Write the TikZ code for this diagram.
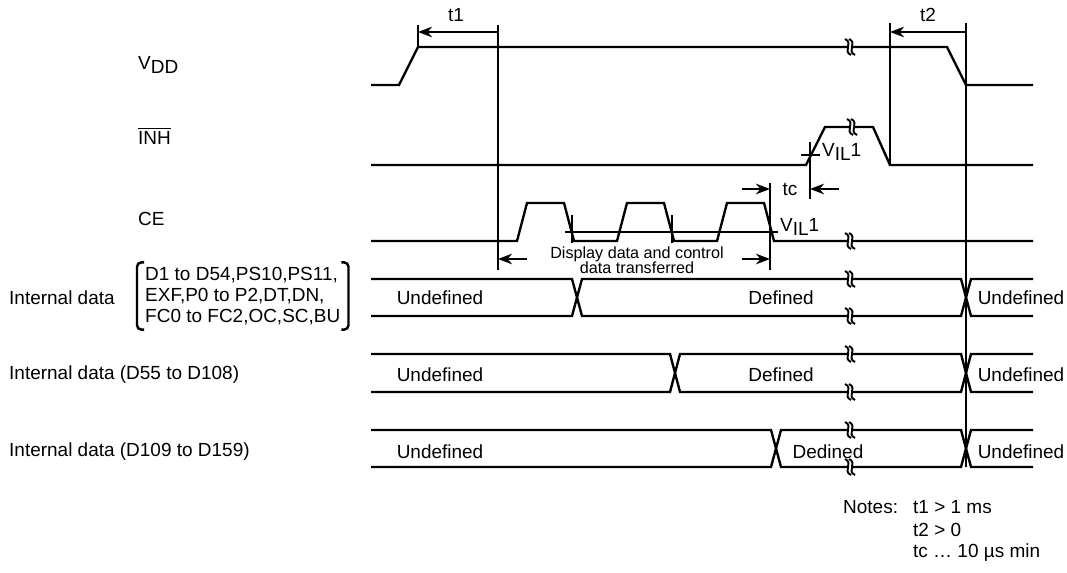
\documentclass[tikz,border=0pt]{standalone}
\usepackage{fontspec}
\setmainfont{Liberation Sans}
\usetikzlibrary{arrows.meta}

% break mark: two wavy strokes across a line
\newcommand{\brkmark}[2]{%
  \fill[white] ({#1-5},{#2-8}) .. controls ({#1+4},{#2-4}) and ({#1-8},{#2+4}) .. ({#1+1},{#2+8})
    -- ({#1+5},{#2+8}) .. controls ({#1-4},{#2+4}) and ({#1+8},{#2-4}) .. ({#1-1},{#2-8}) -- cycle;
  \draw[line width=1.1pt] ({#1-5},{#2-8}) .. controls ({#1+4},{#2-4}) and ({#1-8},{#2+4}) .. ({#1+1},{#2+8});
  \draw[line width=1.1pt] ({#1-1},{#2-8}) .. controls ({#1+8},{#2-4}) and ({#1-4},{#2+4}) .. ({#1+5},{#2+8});
}

\begin{document}
\begin{tikzpicture}[x=0.02cm, y=-0.02cm, line width=1.35pt,
  every node/.style={font=\fontsize{10.8}{13}\selectfont, inner sep=0pt},
  dim/.style={-{Stealth[length=8pt,width=6pt]}}]
  \useasboundingbox (0,0) rectangle (1067,573);

  \def\xl{371}
  \def\xr{1033}
  \def\xbrk{850}
  \def\xend{966}

  % labels on the left
  \node[anchor=west] (vdd) at (137,65) {V\raisebox{-0.45ex}{DD}};
  \node[anchor=west] (inh) at (137,136) {$\overline{\mbox{INH}}$};
  \node[anchor=west] (ce) at (137,219) {CE};
  \node[anchor=west] (int1) at (8,298) {Internal data};
  \node[anchor=west, align=left, inner xsep=4pt, inner ysep=2pt,
    font=\fontsize{10.8}{12}\selectfont] (lst) at (137,296)
    {D1 to D54,PS10,PS11,\\EXF,P0 to P2,DT,DN,\\FC0 to FC2,OC,SC,BU};
  \draw[line width=1.4pt, rounded corners=2.5pt] ([xshift=4pt]lst.north west) -- (lst.north west)
    -- (lst.south west) -- ([xshift=4pt]lst.south west);
  \draw[line width=1.4pt, rounded corners=2.5pt] ([xshift=-4pt]lst.north east) -- (lst.north east)
    -- (lst.south east) -- ([xshift=-4pt]lst.south east);
  \node[anchor=west] (int2) at (8,375) {Internal data (D55 to D108)};
  \node[anchor=west] (int3) at (8,452) {Internal data (D109 to D159)};

  % VDD
  \draw (\xl,85) -- (399,85) -- (418,47) -- (947,47) -- (\xend,85) -- (\xr,85);
  \brkmark{\xbrk}{47}

  % INH
  \draw (\xl,165) -- (806,165) -- (825,127) -- (873,127) -- (890,165) -- (\xr,165);
  \brkmark{852}{127}

  % CE
  \draw (\xl,241) -- (517,241)
    \foreach \p in {517,617,717} { -- (\p,241) -- (\p+10,203) -- (\p+47,203) -- (\p+57,241) }
    -- (\xr,241);
  \brkmark{\xbrk}{241}
  \draw (565,232) -- (778,232);
  \draw (572,215) -- (572,243);
  \draw (672,215) -- (672,243);

  % t1, t2
  \draw (418,25) -- (418,47);
  \draw (498,25) -- (498,270);
  \draw (890,23) -- (890,165);
  \draw (\xend,23) -- (\xend,467);
  \draw[dim, {Stealth[length=8pt,width=6pt]}-] (418,32) -- (498,32);
  \draw[dim, {Stealth[length=8pt,width=6pt]}-] (890,32) -- (\xend,32);
  \node (t1) at (456,15) {t1};
  \node (t2) at (928,15) {t2};

  % tc and VIL1
  \draw (810,142) -- (810,199);
  \draw (801,155) -- (820,155);
  \draw (770,183) -- (770,270);
  \draw[dim] (742,189) -- (770,189);
  \draw[dim] (839,189) -- (810,189);
  \node (tc) at (790,189) {tc};
  \node[anchor=west] (vil1) at (821,152) {V\raisebox{-0.45ex}{IL}1};
  \node[anchor=west] (vil2) at (779,227) {V\raisebox{-0.45ex}{IL}1};

  % transfer period
  \draw[dim] (527,259) -- (498,259);
  \draw[dim] (742,259) -- (770,259);
  \node[align=center, font=\fontsize{9.2}{11}\selectfont] (xfer) at (637,260)
    {Display data and control\\[-2.2pt]data transferred};

  % internal data rows
  \foreach \yt/\yb/\xc in {279/316/577, 354/392/675, 430/467/776} {
    \draw (\xl,\yt) -- (\xc-5,\yt) -- (\xc+5,\yb) -- (\xend-5,\yb) -- (\xend+5,\yt) -- (\xr,\yt);
    \draw (\xl,\yb) -- (\xc-5,\yb) -- (\xc+5,\yt) -- (\xend-5,\yt) -- (\xend+5,\yb) -- (\xr,\yb);
    \brkmark{\xbrk}{\yt}
    \brkmark{\xbrk}{\yb}
  }
  \node (u1) at (440,298) {Undefined};
  \node (d1) at (781,298) {Defined};
  \node (e1) at (1021,298) {Undefined};
  \node (u2) at (440,375) {Undefined};
  \node (d2) at (781,375) {Defined};
  \node (e2) at (1021,375) {Undefined};
  \node (u3) at (440,452) {Undefined};
  \node (d3) at (828,452) {Dedined};
  \node (e3) at (1021,452) {Undefined};

  % notes
  \node[anchor=west] (notes) at (842,507) {Notes:};
  \node[anchor=west] (n1) at (912,507) {t1 > 1 ms};
  \node[anchor=west] (n2) at (912,530) {t2 > 0};
  \node[anchor=west] (n3) at (912,553) {tc … 10 µs min};

\end{tikzpicture}
\end{document}
